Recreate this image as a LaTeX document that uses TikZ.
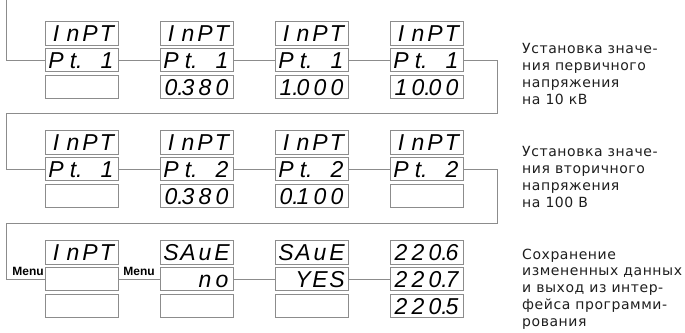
\documentclass[tikz,border=0pt]{standalone}
\usepackage{fontspec}
\setmainfont{DejaVu Sans}
\newfontfamily\segfont{Liberation Sans}
\newfontfamily\menufont{Liberation Sans}
\newfontfamily\descfont[LetterSpace=4]{DejaVu Sans}
\definecolor{boxgray}{RGB}{140,140,140}
\definecolor{linegray}{RGB}{140,140,140}
\definecolor{descgray}{RGB}{30,30,30}
\newcommand\segcell[1]{\makebox[17pt][c]{#1}}
\newcommand\segd[4]{\segcell{#1}\segcell{#2}\segcell{#3}\segcell{#4}}
\newcommand\dotd[1]{#1\rlap{.}}
\begin{document}
\begin{tikzpicture}[x=1pt,y=-1pt]
\tikzset{
  disp/.style={draw=boxgray, line width=0.9pt, fill=white, minimum width=73pt, minimum height=23.5pt, inner sep=0pt,
    font=\segfont\itshape\fontsize{23}{23}\selectfont, text height=16.5pt, text depth=0pt},
  conn/.style={draw=linegray, line width=0.8pt},
  menulbl/.style={font=\menufont\bfseries\fontsize{12}{12}\selectfont, inner sep=0pt, anchor=base},
  desc/.style={font=\descfont\fontsize{14}{16.8}\selectfont, align=left, anchor=north west, inner sep=0pt, text=descgray}
}
\useasboundingbox (0,0) rectangle (685,332);
% row 1
\node[disp] (r1c1a) at (81.5,33.2) {\segd{I}{n}{P}{T}};
\node[disp] (r1c1b) at (81.5,60) {\segd{P}{\dotd{t}}{}{1}};
\node[disp] (r1c1c) at (81.5,86.8) {};
\node[disp] (r1c2a) at (196.5,33.2) {\segd{I}{n}{P}{T}};
\node[disp] (r1c2b) at (196.5,60) {\segd{P}{\dotd{t}}{}{1}};
\node[disp] (r1c2c) at (196.5,86.8) {\segd{\dotd{0}}{3}{8}{0}};
\node[disp] (r1c3a) at (311.5,33.2) {\segd{I}{n}{P}{T}};
\node[disp] (r1c3b) at (311.5,60) {\segd{P}{\dotd{t}}{}{1}};
\node[disp] (r1c3c) at (311.5,86.8) {\segd{\dotd{1}}{0}{0}{0}};
\node[disp] (r1c4a) at (426.5,33.2) {\segd{I}{n}{P}{T}};
\node[disp] (r1c4b) at (426.5,60) {\segd{P}{\dotd{t}}{}{1}};
\node[disp] (r1c4c) at (426.5,86.8) {\segd{1}{\dotd{0}}{0}{0}};
% row 2
\node[disp] (r2c1a) at (81.5,142.2) {\segd{I}{n}{P}{T}};
\node[disp] (r2c1b) at (81.5,169) {\segd{P}{\dotd{t}}{}{1}};
\node[disp] (r2c1c) at (81.5,195.8) {};
\node[disp] (r2c2a) at (196.5,142.2) {\segd{I}{n}{P}{T}};
\node[disp] (r2c2b) at (196.5,169) {\segd{P}{\dotd{t}}{}{2}};
\node[disp] (r2c2c) at (196.5,195.8) {\segd{\dotd{0}}{3}{8}{0}};
\node[disp] (r2c3a) at (311.5,142.2) {\segd{I}{n}{P}{T}};
\node[disp] (r2c3b) at (311.5,169) {\segd{P}{\dotd{t}}{}{2}};
\node[disp] (r2c3c) at (311.5,195.8) {\segd{\dotd{0}}{1}{0}{0}};
\node[disp] (r2c4a) at (426.5,142.2) {\segd{I}{n}{P}{T}};
\node[disp] (r2c4b) at (426.5,169) {\segd{P}{\dotd{t}}{}{2}};
\node[disp] (r2c4c) at (426.5,195.8) {};
% row 3
\node[disp] (r3c1a) at (81.5,252.2) {\segd{I}{n}{P}{T}};
\node[disp] (r3c1b) at (81.5,279) {};
\node[disp] (r3c1c) at (81.5,305.8) {};
\node[disp] (r3c2a) at (196.5,252.2) {\segd{S}{A}{u}{E}};
\node[disp] (r3c2b) at (196.5,279) {\segd{}{}{n}{o}};
\node[disp] (r3c2c) at (196.5,305.8) {};
\node[disp] (r3c3a) at (311.5,252.2) {\segd{S}{A}{u}{E}};
\node[disp] (r3c3b) at (311.5,279) {\segd{}{Y}{E}{S}};
\node[disp] (r3c3c) at (311.5,305.8) {};
\node[disp] (r3c4a) at (426.5,252.2) {\segd{2}{2}{\dotd{0}}{6}};
\node[disp] (r3c4b) at (426.5,279) {\segd{2}{2}{\dotd{0}}{7}};
\node[disp] (r3c4c) at (426.5,305.8) {\segd{2}{2}{\dotd{0}}{5}};
% connectors
\coordinate (start) at (6,0);
\coordinate (t2e) at (497,113);
\coordinate (t2w) at (6,113);
\coordinate (t3e) at (497,223);
\coordinate (t3w) at (6,223);
\draw[conn] (start) |- (r1c1b.west);
\draw[conn] (r1c1b.east) -- (r1c2b.west);
\draw[conn] (r1c2b.east) -- (r1c3b.west);
\draw[conn] (r1c3b.east) -- (r1c4b.west);
\draw[conn] (r1c4b.east) -| (t2e) -- (t2w) |- (r2c1b.west);
\draw[conn] (r2c1b.east) -- (r2c2b.west);
\draw[conn] (r2c2b.east) -- (r2c3b.west);
\draw[conn] (r2c3b.east) -- (r2c4b.west);
\draw[conn] (r2c4b.east) -| (t3e) -- (t3w) |- (r3c1b.west);
\draw[conn] (r3c1b.east) -- (r3c2b.west);
\draw[conn] (r3c2b.east) -- (r3c3b.west);
\draw[conn] (r3c3b.east) -- (r3c4b.west);
% menu labels
\node[menulbl] (menu1) at (28,275.5) {Menu};
\node[menulbl] (menu2) at (139,275.5) {Menu};
% descriptions
\node[desc] (d1) at (522,43.5) {Установка значе-\\ния первичного\\напряжения\\на 10 кВ};
\node[desc] (d2) at (522,146.5) {Установка значе-\\ния вторичного\\напряжения\\на 100 В};
\node[desc] (d3) at (522,248.5) {Сохранение\\измененных данных\\и выход из интер-\\фейса программи-\\рования};
\end{tikzpicture}
\end{document}
